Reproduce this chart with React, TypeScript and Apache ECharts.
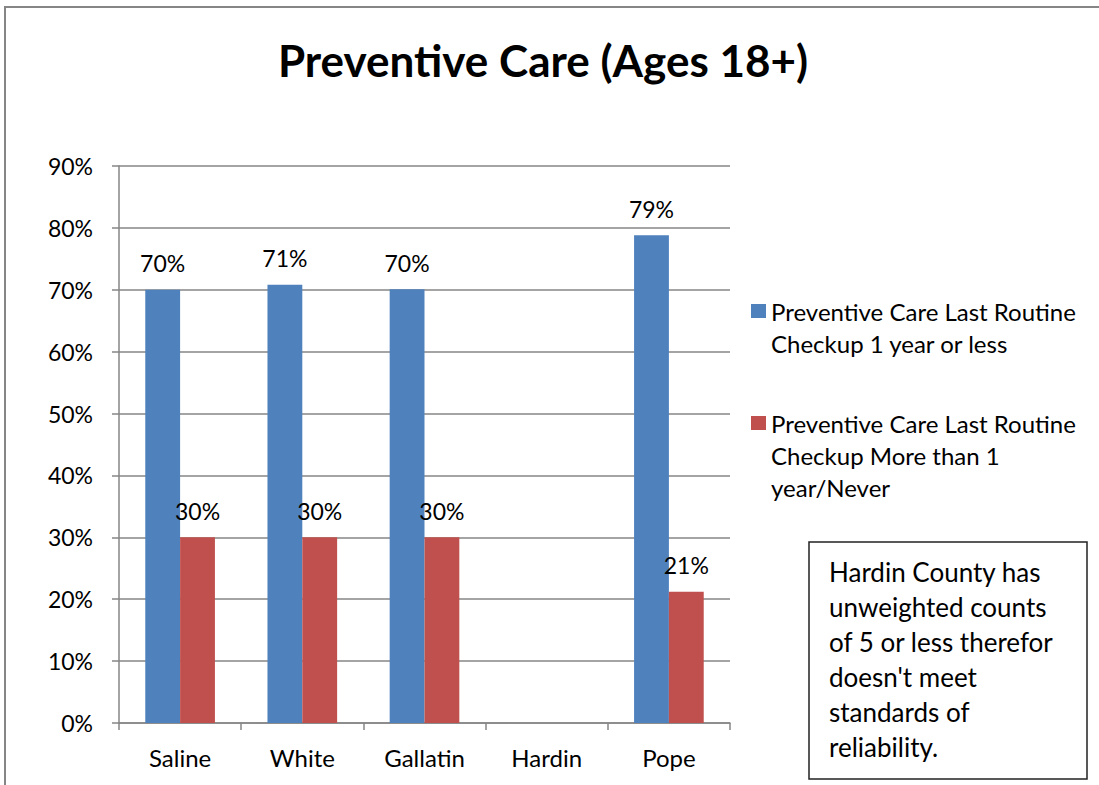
import React, { useEffect, useRef } from "react";
import * as echarts from "echarts";

const categories = ["Saline", "White", "Gallatin", "Hardin", "Pope"];
const seriesNames = [
  "Preventive Care Last Routine Checkup 1 year or less",
  "Preventive Care Last Routine Checkup More than 1 year/Never",
];
const legendWrapped: Record<string, string> = {
  [seriesNames[0]]: "\nPreventive Care Last Routine\nCheckup 1 year or less",
  [seriesNames[1]]: "\n\nPreventive Care Last Routine\nCheckup More than 1\nyear/Never",
};
const withinYear = [70.0, 70.8, 70.1, null, 78.8];
const moreThanYear = [30.0, 30.0, 30.0, null, 21.2];
const yTicks = { min: 0, max: 90, interval: 10 };
const titleText = "Preventive Care (Ages 18+)";
const noteLines = [
  "Hardin County has",
  "unweighted counts",
  "of 5 or less therefor",
  "doesn't meet",
  "standards of",
  "reliability.",
];

const FONT = "Lato, 'Open Sans', sans-serif";
const GRAY = "#868686";

export default function App() {
  const ref = useRef<HTMLDivElement>(null);
  useEffect(() => {
    if (!ref.current) return;
    const chart = echarts.init(ref.current, undefined, { renderer: "svg" });
    const label = {
      show: true,
      position: "top",
      distance: 15,
      color: "#000",
      fontSize: 23,
      fontFamily: FONT,
      formatter: (p: any) => Math.round(p.value) + "%",
    };
    const legendBase = {
      orient: "vertical",
      left: 751,
      padding: 0,
      itemWidth: 15,
      itemHeight: 14,
      icon: "rect",
      selectedMode: false,
      formatter: (n: string) => legendWrapped[n],
      textStyle: { fontSize: 24, lineHeight: 32, color: "#000", fontFamily: FONT },
    };
    chart.setOption({
      animation: false,
      textStyle: { fontFamily: FONT },
      title: {
        text: titleText,
        left: 543,
        top: 38,
        textAlign: "center",
        padding: 0,
        textStyle: { fontSize: 44, fontWeight: "bold", color: "#000", fontFamily: FONT },
      },
      legend: [
        { ...legendBase, top: 263, data: [seriesNames[0]] },
        { ...legendBase, top: 343, data: [seriesNames[1]] },
      ],
      grid: { left: 119, right: 369, top: 166, bottom: 62, containLabel: false },
      xAxis: {
        type: "category",
        data: categories,
        axisLine: { lineStyle: { color: GRAY, width: 1.5 } },
        axisTick: { show: true, length: 7, alignWithLabel: false, lineStyle: { color: GRAY, width: 1.5 } },
        axisLabel: { color: "#000", fontSize: 24, margin: 22, fontFamily: FONT },
        splitLine: { show: false },
      },
      yAxis: {
        type: "value",
        min: yTicks.min,
        max: yTicks.max,
        interval: yTicks.interval,
        axisLine: { show: true, lineStyle: { color: GRAY, width: 1.5 } },
        axisTick: { show: true, length: 7, lineStyle: { color: GRAY, width: 1.5 } },
        axisLabel: { color: "#000", fontSize: 23, margin: 26, formatter: "{value}%", fontFamily: FONT },
        splitLine: { show: true, lineStyle: { color: GRAY, width: 1.5 } },
      },
      series: [
        {
          name: seriesNames[0],
          type: "bar",
          data: withinYear,
          itemStyle: { color: "#4F81BD" },
          barGap: "0%",
          barCategoryGap: "43%",
          label,
        },
        {
          name: seriesNames[1],
          type: "bar",
          data: moreThanYear,
          itemStyle: { color: "#C0504D" },
          barGap: "0%",
          barCategoryGap: "43%",
          label,
        },
      ],
      graphic: [
        {
          type: "rect",
          shape: { x: 5, y: 7, width: 1200, height: 900 },
          style: { fill: "none", stroke: GRAY, lineWidth: 2 },
          silent: true,
        },
        {
          type: "rect",
          shape: { x: 809, y: 542, width: 278, height: 237 },
          style: { fill: "#fff", stroke: "#222", lineWidth: 1.5 },
          silent: true,
        },
        {
          type: "text",
          x: 829,
          y: 554,
          style: {
            text: noteLines.join("\n"),
            fontSize: 26,
            lineHeight: 35,
            fontFamily: FONT,
            fill: "#000",
            verticalAlign: "top",
            align: "left",
          },
          silent: true,
        },
      ],
    });
    return () => chart.dispose();
  }, []);
  return (
    <div
      ref={ref}
      style={{ position: "absolute", left: 0, top: 0, width: 1099, height: 785, background: "#fff" }}
    />
  );
}
